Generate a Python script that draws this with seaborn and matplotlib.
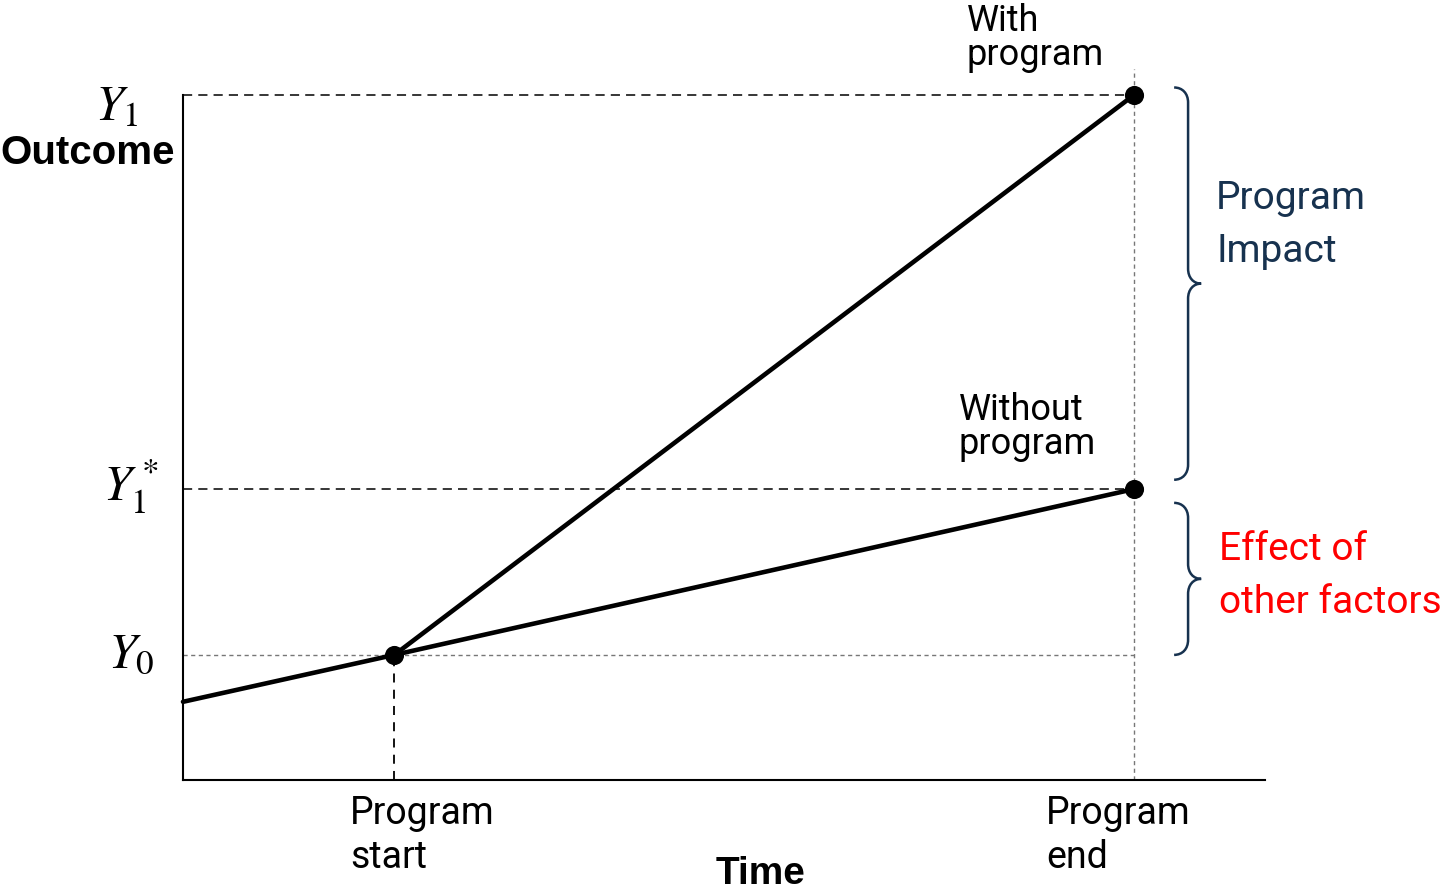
import matplotlib
matplotlib.use('Agg')
import matplotlib.pyplot as plt
import pandas as pd
import seaborn as sns
from matplotlib.patches import PathPatch
from matplotlib.path import Path

# time axis: 0 = left edge, program runs from t=1 to t=4.5
T_START = 1.0
T_END = 4.5
T_MAX = 5.12

# outcome levels
Y0 = 2.0
Y1_STAR = 4.65
Y1 = 10.95
Y_BEFORE = 1.25  # outcome at the left edge, on the counterfactual trend

scenario = ['Without program', 'Without program', 'Without program', 'With program', 'With program']
time = [0.0, T_START, T_END, T_START, T_END]
outcome = [Y_BEFORE, Y0, Y1_STAR, Y0, Y1]

point_time = [T_START, T_END, T_END]
point_outcome = [Y0, Y1, Y1_STAR]

NAVY = '#17324f'
RED = '#ff0000'


def brace(ax, ybot, ytop, x0=4.69, xm=4.756, xt=4.818, r=0.24):
    ymid = (ybot + ytop) / 2
    verts = [
        (x0, ytop),
        (x0 + (xm - x0) * 0.6, ytop), (xm, ytop - r * 0.4), (xm, ytop - r),
        (xm, ymid + r),
        (xm, ymid + r * 0.4), (xm + (xt - xm) * 0.4, ymid), (xt, ymid),
        (xm + (xt - xm) * 0.4, ymid), (xm, ymid - r * 0.4), (xm, ymid - r),
        (xm, ybot + r),
        (xm, ybot + r * 0.4), (x0 + (xm - x0) * 0.6, ybot), (x0, ybot),
    ]
    codes = [Path.MOVETO] + [Path.CURVE4] * 3 + [Path.LINETO] + [Path.CURVE4] * 6 + [Path.LINETO] + [Path.CURVE4] * 3
    ax.add_patch(PathPatch(Path(verts, codes), fill=False, edgecolor=NAVY, lw=1.8, clip_on=False))


def lines_text(ax, x, y, lines, gap, **kw):
    for i, line in enumerate(lines):
        ax.text(x, y - i * gap, line, ha='left', va='baseline', **kw)


def main():
    sns.set_theme(style='white')
    plt.rcParams['font.family'] = ['Roboto', 'DejaVu Sans']
    plt.rcParams['mathtext.fontset'] = 'stix'
    plt.rcParams['text.color'] = 'black'

    fig = plt.figure(figsize=(14.43, 8.93), dpi=100)
    ax = fig.add_axes([183 / 1443, 113 / 893, 1082 / 1443, 685 / 893])

    df = pd.DataFrame({'scenario': scenario, 'time': time, 'outcome': outcome})

    # guide lines
    ax.plot([0, T_END], [Y1, Y1], color='black', lw=1.1, dashes=(6, 4), clip_on=False)
    ax.plot([0, T_END], [Y1_STAR, Y1_STAR], color='black', lw=1.1, dashes=(6, 4))
    ax.plot([0, T_END], [Y0, Y0], color='#777777', lw=1.0, dashes=(3, 2.5))
    ax.plot([T_START, T_START], [0, Y0], color='black', lw=1.3, dashes=(5, 4))
    ax.plot([T_END, T_END], [0, 11.36], color='#777777', lw=1.0, dashes=(3, 2.5), clip_on=False)

    sns.lineplot(data=df, x='time', y='outcome', hue='scenario',
                 palette={'With program': 'black', 'Without program': 'black'},
                 lw=3.3, legend=False, clip_on=False, ax=ax)
    sns.scatterplot(x=point_time, y=point_outcome, color='black', s=190,
                    zorder=5, clip_on=False, linewidth=0, ax=ax)

    ax.set_xlim(0, T_MAX)
    ax.set_ylim(0, Y1)
    ax.set_xticks([])
    ax.set_yticks([])
    ax.set_xlabel('')
    ax.set_ylabel('')
    sns.despine(ax=ax)
    for side in ('left', 'bottom'):
        ax.spines[side].set_color('black')
        ax.spines[side].set_linewidth(1.5)

    # y level labels
    ax.text(-0.415, 10.54, r'$Y_1$', fontsize=36, ha='left', va='baseline')
    ax.text(-0.378, 4.464, r'$Y_1^*$', fontsize=36, ha='left', va='baseline')
    ax.text(-0.354, 1.792, r'$Y_0$', fontsize=36, ha='left', va='baseline')

    ax.text(-0.038, 9.84, 'Outcome', fontsize=29, fontweight='bold', ha='right', va='baseline',
            family=['Liberation Sans', 'DejaVu Sans'])
    ax.text(2.733, -1.67, 'Time', fontsize=28, fontweight='bold', ha='center', va='baseline',
            family=['Liberation Sans', 'DejaVu Sans'])

    lines_text(ax, 0.791, -0.704, ['Program', 'start'], 0.704, fontsize=27)
    lines_text(ax, 4.083, -0.704, ['Program', 'end'], 0.704, fontsize=27)
    lines_text(ax, 3.709, 11.98, ['With', 'program'], 0.545, fontsize=26)
    lines_text(ax, 3.671, 5.76, ['Without', 'program'], 0.545, fontsize=26)

    brace(ax, 4.8, 11.07)
    brace(ax, 2.0, 4.43)
    lines_text(ax, 4.889, 9.12, ['Program', 'Impact'], 0.832, fontsize=28, color=NAVY)
    lines_text(ax, 4.903, 3.52, ['Effect of', 'other factors'], 0.848, fontsize=28, color=RED)

    fig.savefig('out.png', dpi=100)


if __name__ == '__main__':
    main()
